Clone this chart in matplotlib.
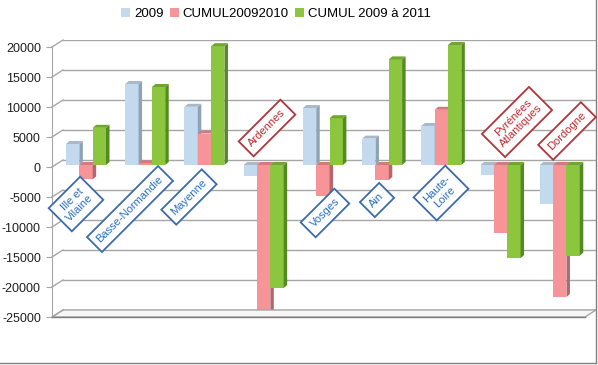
import matplotlib.pyplot as plt
from matplotlib.patches import Polygon, Patch
from matplotlib.lines import Line2D

plt.rcParams['font.family'] = ['Liberation Sans', 'DejaVu Sans']

# data
departements = ["Ille et\nVilaine", "Basse-Normandie", "Mayenne", "Ardennes", "Vosges",
                "Ain", "Haute-\nLoire", "Pyrénées\nAtlantiques", "Dordogne"]
v2009 = [3500, 13500, 9700, -1800, 9500, 4400, 6500, -1700, -6500]
cumul_2010 = [-2400, 300, 5250, -24800, -5200, -2500, 9200, -11300, -22000]
cumul_2011 = [6200, 13000, 19800, -20500, 7800, 17600, 20000, -15500, -15100]
series_names = ["2009", "CUMUL20092010", "CUMUL 2009 à 2011"]
yticks = [20000, 15000, 10000, 5000, 0, -5000, -10000, -15000, -20000, -25000]

# front / side / top colours per series
colors = [("#c3d9ee", "#8fa3b8", "#aab9c9"),
          ("#f79498", "#b4686b", "#d27a7e"),
          ("#8cc63e", "#548a22", "#6ea62e")]

# label positions (pixels) and colours for the boxed category labels
label_pos = [(76, 204), (130, 209), (189, 197), (267, 128), (325, 213),
             (377, 200), (441, 193), (517, 122), (567, 131)]
label_red = [False, False, False, True, False, False, False, True, True]

W, H = 598, 365
fig = plt.figure(figsize=(W / 100, H / 100), dpi=100)
YMIN, YMAX = -25000, 20000


def place(left, right, zero_y, scale=0.006):
    top = zero_y - YMAX * scale
    bottom = zero_y - YMIN * scale
    a = fig.add_axes([left / W, (H - bottom) / H, (right - left) / W, (bottom - top) / H])
    a.set_xlim(-0.5, len(departements) - 0.5)
    a.set_ylim(YMIN, YMAX)
    a.patch.set_visible(False)
    a.set_xticks([])
    a.set_yticks([])
    for s in a.spines.values():
        s.set_visible(False)
    return a


back = place(63, 596, 160)     # back wall: gridlines
ax = place(56.4, 589.4, 165)   # bars
front = place(52, 585, 167)    # axis line and tick labels

for v in yticks:
    back.axhline(v, color="#a6a6a6", lw=1, zorder=1)

front.spines["left"].set_visible(True)
front.spines["left"].set_color("#a6a6a6")
front.set_yticks(yticks)
front.set_yticklabels([str(t) for t in yticks], fontsize=9, color="#202020")
front.tick_params(axis="y", length=4, color="#a6a6a6", pad=4)

# diagonals linking the front axis to the back wall
inv = fig.transFigure.inverted()
for v in yticks:
    p1 = inv.transform(front.transData.transform((-0.5, v)))
    p2 = inv.transform(back.transData.transform((-0.5, v)))
    fig.add_artist(Line2D([p1[0], p2[0]], [p1[1], p2[1]], color="#a6a6a6", lw=1))

# floor slab
fl = front.transData.transform((-0.5, YMIN))
fr = front.transData.transform((len(departements) - 0.5, YMIN))
bl = back.transData.transform((-0.5, YMIN))
br = back.transData.transform((len(departements) - 0.5, YMIN))
floor = Polygon([fl, fr, br, bl], closed=True, transform=None,
                facecolor="#f7f7f7", edgecolor="#a6a6a6", lw=1, zorder=0.5)
fig.add_artist(floor)
fig.add_artist(Line2D([fl[0] / W, fr[0] / W], [fl[1] / H, fr[1] / H], color="#7f7f7f", lw=1))

# 3D columns
width = 0.225
dx, dy = 3.5, 3.0
for si, vals in enumerate([v2009, cumul_2010, cumul_2011]):
    face, side, topc = colors[si]
    for i, v in enumerate(vals):
        xc = i + (si - 1) * width
        ax.bar(xc, v, width=width, color=face, zorder=3 + si, linewidth=0, clip_on=False)
        x0, y0 = ax.transData.transform((xc - width / 2, 0))
        x1, y1 = ax.transData.transform((xc + width / 2, v))
        lo, hi = min(y0, y1), max(y0, y1)
        ax.add_patch(Polygon([(x1, lo), (x1, hi), (x1 + dx, hi + dy), (x1 + dx, lo + dy)],
                             closed=True, transform=None, facecolor=side, lw=0,
                             zorder=3 + si, clip_on=False))
        ax.add_patch(Polygon([(x0, hi), (x1, hi), (x1 + dx, hi + dy), (x0 + dx, hi + dy)],
                             closed=True, transform=None, facecolor=topc, lw=0,
                             zorder=3 + si, clip_on=False))

# boxed category labels
for name, (px, py), red in zip(departements, label_pos, label_red):
    c = "#c0282e" if red else "#2a6fbd"
    ec = "#b0353a" if red else "#3d6aa8"
    fig.text(px / W, 1 - py / H, name, rotation=45, ha="center", va="center",
             rotation_mode="anchor", fontsize=8, color=c, linespacing=1.2, zorder=10,
             bbox=dict(boxstyle="square,pad=0.5", facecolor="white", edgecolor=ec, lw=1.3))

# legend
handles = [Patch(facecolor=colors[k][0], edgecolor="none") for k in range(3)]
fig.legend(handles, series_names, loc="center", bbox_to_anchor=(276 / W, 1 - 14 / H),
           ncol=3, frameon=False, fontsize=9.5, handlelength=0.65, handleheight=0.65,
           handletextpad=0.3, columnspacing=0.5)

# chart border (right and bottom visible)
fig.add_artist(Line2D([0, 596 / W], [2 / H, 2 / H], color="#808080", lw=1))
fig.add_artist(Line2D([596 / W, 596 / W], [2 / H, 1], color="#808080", lw=1))

fig.savefig("out.png", dpi=100)
